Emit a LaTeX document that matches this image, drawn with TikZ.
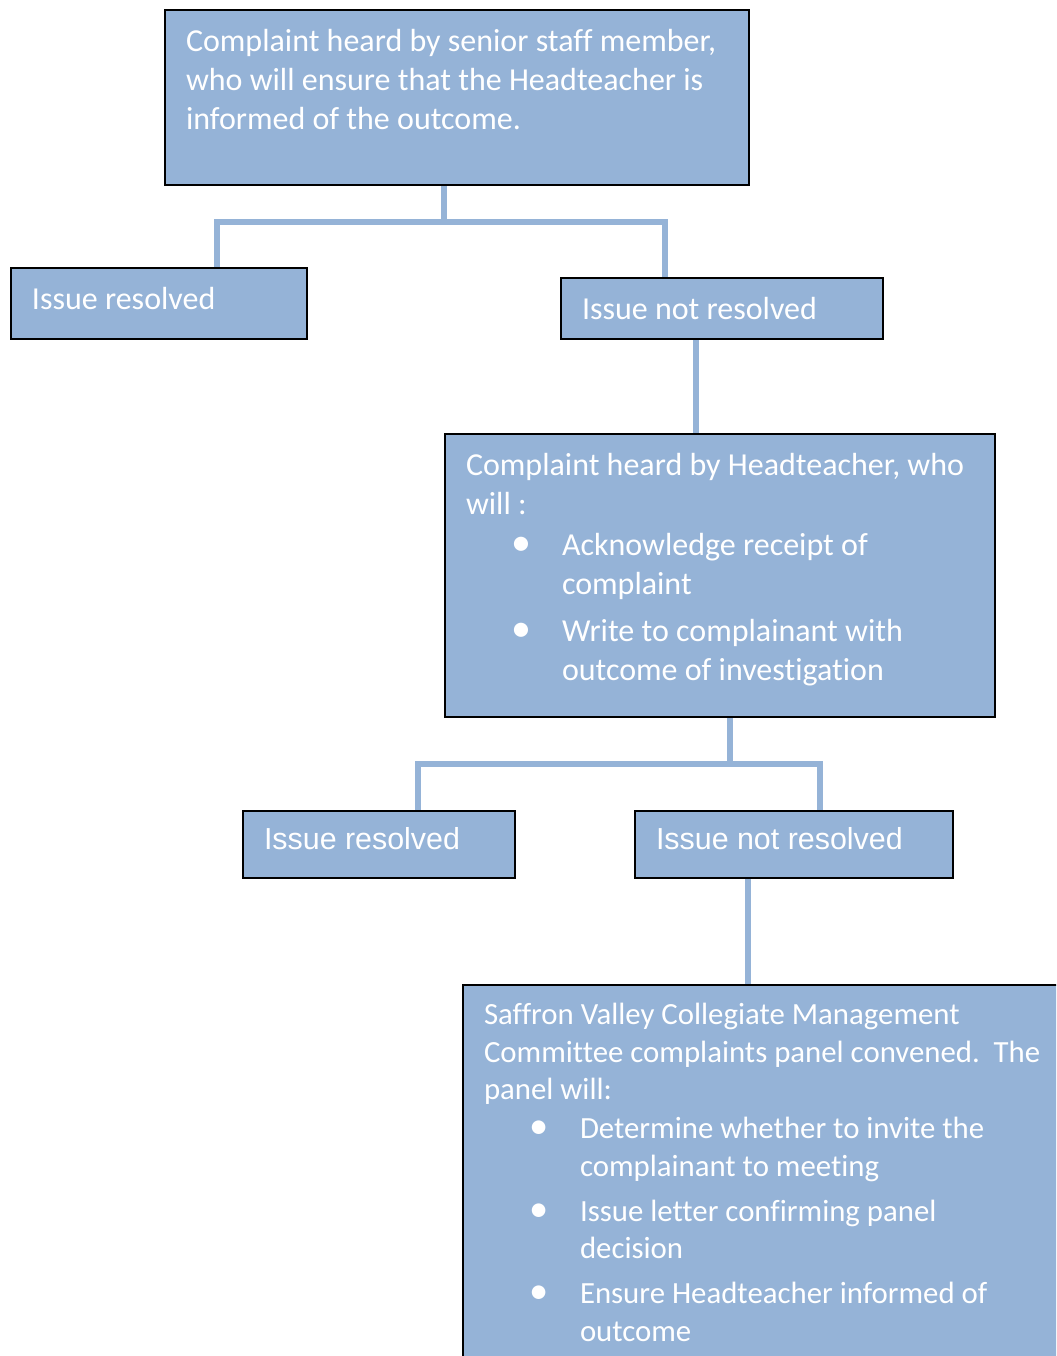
\documentclass[tikz,border=0pt]{standalone}
\usepackage{fontspec}
\setmainfont{Carlito}[Ligatures={NoCommon,NoRequired,NoContextual,NoRare}]
\newfontfamily\arialfont{Liberation Sans}
\usetikzlibrary{calc}
\usetikzlibrary{backgrounds}

\definecolor{boxblue}{RGB}{149,179,215}
\newcommand{\boxtext}[3]{\parbox[t][#2][t]{#1}{\rightskip=-2em plus 1fil\vspace*{6.85pt}\strut #3}}
\newcommand{\bitem}[3][4pt]{\par\vspace{#1}{\leftskip=48pt\noindent\llap{\makebox[41pt][c]{\scalebox{1.25}{\textbullet}}}#2\\#3\par}}

\tikzset{
 flowbox/.style={draw=black, line width=1pt, fill=boxblue, text=white, anchor=north west,
   inner xsep=10.5pt, inner ysep=0pt, font=\fontsize{16pt}{19.5pt}\selectfont},
 arialbox/.style={flowbox, font=\arialfont\fontsize{15.2pt}{18pt}\selectfont},
 link/.style={boxblue, line width=3.25pt}
}

\begin{document}
\begin{tikzpicture}[x=0.5pt, y=-0.5pt]
\useasboundingbox (0,0) rectangle (1056,1356);
\clip (0,0) rectangle (1056,1356);

\node[flowbox] (senior) at (164,9) {\boxtext{271pt}{87.5pt}{Complaint heard by senior staff member,\\
 who will ensure that the Headteacher is\\ informed of the outcome.}};
\node[flowbox] (resolvedA) at (10,267) {\boxtext{127pt}{35.5pt}{Issue resolved}};
\node[flowbox] (notresA) at (560,277) {\boxtext{140pt}{30.5pt}{Issue not resolved}};
\node[flowbox] (head) at (444,433) {\boxtext{254pt}{141.5pt}{Complaint heard by Headteacher, who\\ will :
 \bitem[1pt]{Acknowledge receipt of}{complaint}
 \bitem{Write to complainant with}{outcome of investigation}}};
\node[arialbox] (resolvedB) at (242,810) {\boxtext{115pt}{33.5pt}{Issue resolved}};
\node[arialbox] (notresB) at (634,810) {\boxtext{138pt}{33.5pt}{Issue not resolved}};
\node[flowbox, font=\fontsize{15.4pt}{18.75pt}\selectfont] (panel) at (462,984) {\boxtext{288pt}{208pt}{Saffron Valley Collegiate Management\\
 Committee complaints panel convened.\ \ The\\ panel will:
 \bitem[0.75pt]{Determine whether to invite the}{complainant to meeting}
 \bitem[3.75pt]{Issue letter confirming panel}{decision}
 \bitem[3.75pt]{Ensure Headteacher informed of}{outcome}}};

% connectors
\coordinate (j1) at (444,222);
\coordinate (j1l) at (217,222);
\coordinate (j1r) at (665,222);
\coordinate (j2) at (696,385);
\coordinate (j3) at (730,764);
\coordinate (j3l) at (418,764);
\coordinate (j3r) at (820,764);
\coordinate (j4) at (748,930);
\begin{scope}[on background layer]
\draw[link] (senior.south -| j1) -- (j1);
\draw[link] (resolvedA.north -| j1l) |- (j1r) -- (notresA.north -| j1r);
\draw[link] (head.south -| j3) -- (j3);
\draw[link] (resolvedB.north -| j3l) |- (j3r) -- (notresB.north -| j3r);
\foreach \a/\b/\j in {notresA/head/j2, notresB/panel/j4}
 \draw[link] (\a.south -| \j) -- (\b.north -| \j);
\end{scope}
\end{tikzpicture}
\end{document}
